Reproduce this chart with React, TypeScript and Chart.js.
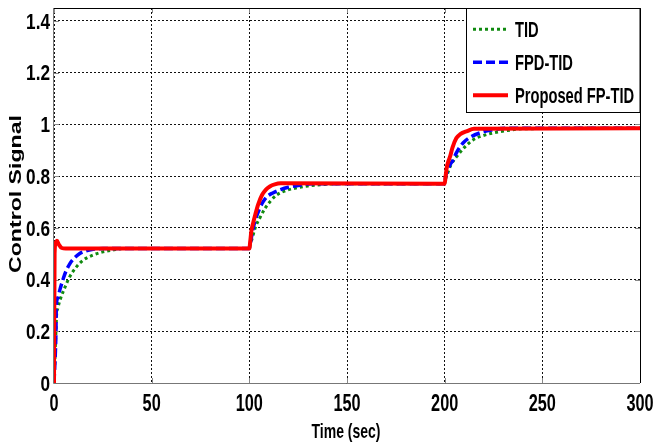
import React, { useEffect, useRef } from 'react';
import { Chart, registerables } from 'chart.js';

Chart.register(...registerables);

// ---- Data ----
const tTID = [0, 1, 1.3, 2, 3.5, 5.6, 8, 11.6, 15, 20, 25, 30, 36, 100, 100.5, 101.5, 103, 105.5, 108, 111, 114, 118, 124, 130, 137, 145, 200, 200.5, 201.5, 203, 206, 210, 214.5, 219, 225, 232, 240, 300];
const vTID = [0, 0.2, 0.26, 0.29, 0.33, 0.37, 0.41, 0.45, 0.475, 0.495, 0.507, 0.514, 0.52, 0.52, 0.535, 0.56, 0.6, 0.64, 0.675, 0.705, 0.727, 0.742, 0.754, 0.762, 0.767, 0.77, 0.77, 0.79, 0.81, 0.84, 0.874, 0.91, 0.94, 0.955, 0.967, 0.976, 0.983, 0.985];

const tFPD = [0, 1, 1.2, 2, 3, 4.6, 6, 8, 10, 13, 16, 20, 25, 100, 100.5, 101, 102, 103.5, 105, 107, 109, 112, 116, 120, 125, 132, 200, 200.5, 201.5, 202.5, 204.3, 206, 209.4, 213, 218, 224, 232, 300];
const vFPD = [0, 0.2, 0.3, 0.33, 0.36, 0.4, 0.43, 0.46, 0.48, 0.5, 0.51, 0.517, 0.52, 0.52, 0.54, 0.56, 0.6, 0.64, 0.67, 0.7, 0.72, 0.735, 0.748, 0.757, 0.764, 0.77, 0.77, 0.8, 0.82, 0.84, 0.862, 0.89, 0.928, 0.95, 0.967, 0.978, 0.985, 0.985];

const tFP = [0, 0.3, 1, 1.5, 2.5, 4, 6, 100, 100.5, 101, 102, 103, 104.5, 106.5, 108.5, 110.5, 113, 116, 200, 200.5, 201, 202, 202.7, 204, 206, 208, 211.5, 215, 300];
const vFP = [0, 0.5, 0.545, 0.55, 0.535, 0.522, 0.52, 0.52, 0.55, 0.585, 0.62, 0.65, 0.69, 0.727, 0.748, 0.76, 0.768, 0.772, 0.77, 0.8, 0.83, 0.86, 0.874, 0.91, 0.947, 0.962, 0.974, 0.983, 0.985];

const seriesNames = ['TID', 'FPD-TID', 'Proposed FP-TID'];
const xTicks = [0, 50, 100, 150, 200, 250, 300];
const xTickLabels = ['0', '50', '100', '150', '200', '250', '300'];
const yTicks = [0, 0.2, 0.4, 0.6, 0.8, 1, 1.2, 1.4];
const yTickLabels = ['0', '0.2', '0.4', '0.6', '0.8', '1', '1.2', '1.4'];
const xTitle = 'Time (sec)';
const yTitle = 'Control Signal';

const FONT = '"Liberation Sans", Arial, sans-serif';

function pts(t: number[], v: number[]) {
  return t.map((x, i) => ({ x, y: v[i] }));
}

function stretchText(ctx: CanvasRenderingContext2D, text: string, x: number, y: number, size: number, sy: number, align: CanvasTextAlign) {
  ctx.save();
  ctx.translate(x, y);
  ctx.scale(1, sy);
  ctx.font = `bold ${size}px ${FONT}`;
  ctx.textAlign = align;
  ctx.textBaseline = 'alphabetic';
  ctx.fillStyle = '#000';
  ctx.fillText(text, 0, 0);
  ctx.restore();
}

const framePlugin = {
  id: 'frame',
  beforeDatasetsDraw(chart: any) {
    const { ctx, chartArea } = chart;
    const { left, right, top, bottom } = chartArea;
    const xs = chart.scales.x;
    const ys = chart.scales.y;
    ctx.save();
    ctx.lineWidth = 1;
    // tick marks
    ctx.strokeStyle = '#888';
    xTicks.forEach((v) => {
      const px = Math.round(xs.getPixelForValue(v)) + 0.5;
      ctx.beginPath();
      ctx.moveTo(px, bottom);
      ctx.lineTo(px, bottom - 5);
      ctx.moveTo(px, top);
      ctx.lineTo(px, top + 5);
      ctx.stroke();
    });
    yTicks.forEach((v) => {
      const py = Math.round(ys.getPixelForValue(v)) + 0.5;
      ctx.beginPath();
      ctx.moveTo(left, py);
      ctx.lineTo(left + 5, py);
      ctx.moveTo(right, py);
      ctx.lineTo(right - 5, py);
      ctx.stroke();
    });
    // frame
    ctx.strokeStyle = '#000';
    ctx.beginPath();
    ctx.moveTo(left, top + 0.5);
    ctx.lineTo(right + 0.5, top + 0.5);
    ctx.lineTo(right + 0.5, bottom);
    ctx.stroke();
    ctx.strokeStyle = '#777';
    ctx.beginPath();
    ctx.moveTo(left - 0.5, top);
    ctx.lineTo(left - 0.5, bottom + 0.5);
    ctx.lineTo(right, bottom + 0.5);
    ctx.stroke();
    ctx.restore();
  },
  afterDraw(chart: any) {
    const { ctx, chartArea } = chart;
    const xs = chart.scales.x;
    const ys = chart.scales.y;
    // tick labels
    xTicks.forEach((v, i) => {
      stretchText(ctx, xTickLabels[i], xs.getPixelForValue(v), 411, 16.3, 1.42, 'center');
    });
    yTicks.forEach((v, i) => {
      stretchText(ctx, yTickLabels[i], chartArea.left - 4, ys.getPixelForValue(v) + 7.8, 17.2, 1.25, 'right');
    });
    // axis titles
    stretchText(ctx, xTitle, 346, 438, 14, 1.45, 'center');
    ctx.save();
    ctx.translate(21, 194);
    ctx.rotate(-Math.PI / 2);
    ctx.scale(1.4, 1);
    ctx.font = `bold 16.5px ${FONT}`;
    ctx.textAlign = 'center';
    ctx.textBaseline = 'alphabetic';
    ctx.fillStyle = '#000';
    ctx.fillText(yTitle, 0, 0);
    ctx.restore();

    // legend
    const bx = 466.5, by = 8.5, bw = chartArea.right - 466.5, bh = 104;
    ctx.save();
    ctx.fillStyle = '#fff';
    ctx.fillRect(bx, by, bw, bh);
    ctx.strokeStyle = '#000';
    ctx.lineWidth = 1;
    ctx.strokeRect(bx, by, bw, bh);
    ctx.restore();
    const baselines = [37, 70, 103];
    chart.data.datasets.forEach((ds: any, i: number) => {
      const ly = baselines[i] - 7.7;
      ctx.save();
      ctx.strokeStyle = ds.borderColor;
      ctx.lineWidth = ds.borderWidth;
      ctx.setLineDash(ds.borderDash || []);
      ctx.lineCap = 'butt';
      ctx.beginPath();
      ctx.moveTo(473, ly);
      ctx.lineTo(508, ly);
      ctx.stroke();
      ctx.restore();
      stretchText(ctx, ds.label, 515, baselines[i], 14.7, 1.5, 'left');
    });
  },
};

export default function App() {
  const ref = useRef<HTMLCanvasElement | null>(null);
  useEffect(() => {
    document.body.style.margin = '0';
    const canvas = ref.current;
    if (!canvas) return;
    const chart = new Chart(canvas, {
      type: 'line',
      data: {
        datasets: [
          {
            label: seriesNames[0],
            data: pts(tTID, vTID),
            borderColor: '#108a10',
            borderWidth: 3,
            borderDash: [3, 3],
            pointRadius: 0,
            cubicInterpolationMode: 'monotone',
            order: 3,
          },
          {
            label: seriesNames[1],
            data: pts(tFPD, vFPD),
            borderColor: '#0000ff',
            borderWidth: 3.5,
            borderDash: [9, 4],
            pointRadius: 0,
            cubicInterpolationMode: 'monotone',
            order: 2,
          },
          {
            label: seriesNames[2],
            data: pts(tFP, vFP),
            borderColor: '#ff0000',
            borderWidth: 4,
            pointRadius: 0,
            cubicInterpolationMode: 'monotone',
            order: 1,
          },
        ],
      } as any,
      options: {
        animation: false,
        responsive: false,
        maintainAspectRatio: false,
        devicePixelRatio: 1,
        layout: { padding: { top: 8, right: 14, left: 0, bottom: 0 } },
        plugins: {
          legend: { display: false },
          tooltip: { enabled: false },
        },
        scales: {
          x: {
            type: 'linear',
            min: 0,
            max: 300,
            ticks: { display: false },
            afterBuildTicks: (s: any) => {
              s.ticks = xTicks.map((v) => ({ value: v }));
            },
            afterFit: (s: any) => {
              s.height = 60;
            },
            grid: { color: '#111', lineWidth: 1, drawTicks: false },
            border: { display: false, dash: [2, 2] },
          },
          y: {
            type: 'linear',
            min: 0,
            max: 1.45,
            ticks: { display: false },
            afterBuildTicks: (s: any) => {
              s.ticks = yTicks.map((v) => ({ value: v }));
            },
            afterFit: (s: any) => {
              s.width = 54;
            },
            grid: { color: '#111', lineWidth: 1, drawTicks: false },
            border: { display: false, dash: [2, 2] },
          },
        },
      } as any,
      plugins: [framePlugin],
    });
    return () => chart.destroy();
  }, []);
  return (
    <div style={{ width: 654, height: 443, position: 'relative', background: '#fff' }}>
      <canvas ref={ref} width={654} height={443} style={{ display: 'block', width: 654, height: 443 }} />
    </div>
  );
}
